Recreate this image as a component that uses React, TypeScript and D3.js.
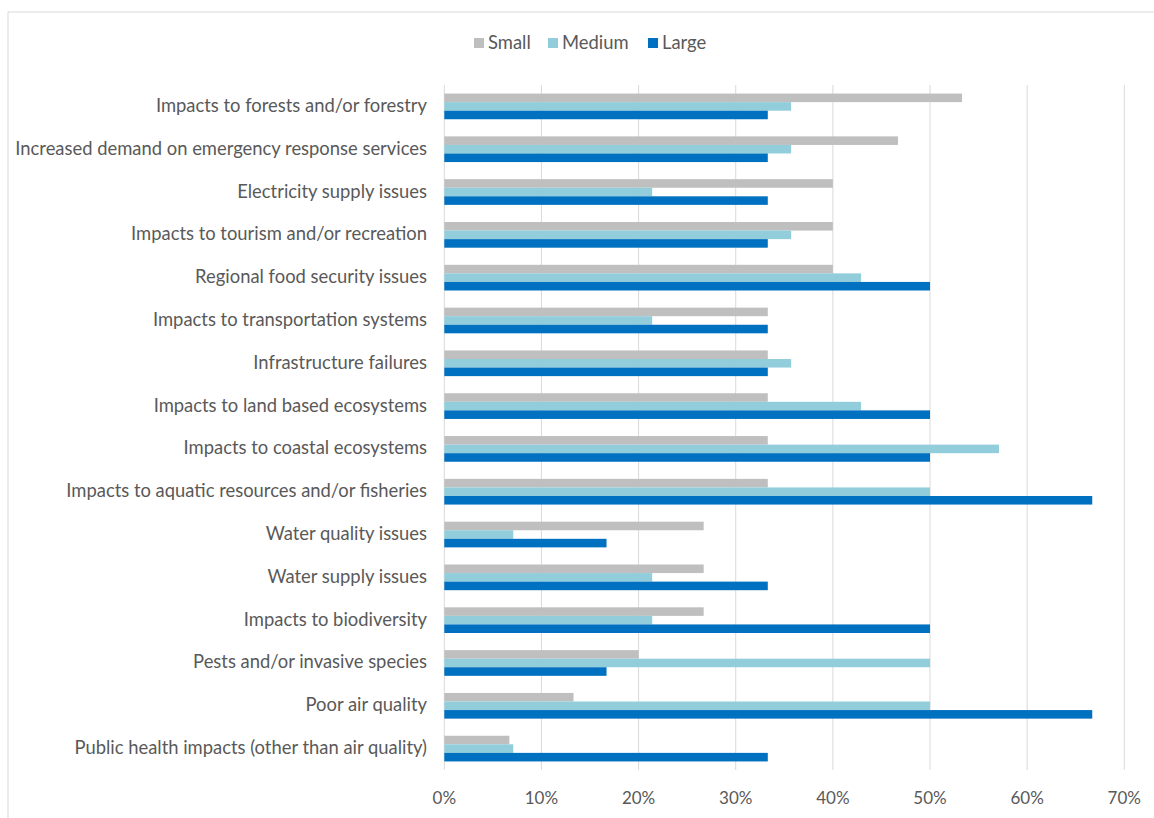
import React from "react";
import * as d3 from "d3";

const categories = [
  "Impacts to forests and/or forestry",
  "Increased demand on emergency response services",
  "Electricity supply issues",
  "Impacts to tourism and/or recreation",
  "Regional food security issues",
  "Impacts to transportation systems",
  "Infrastructure failures",
  "Impacts to land based ecosystems",
  "Impacts to coastal ecosystems",
  "Impacts to aquatic resources and/or fisheries",
  "Water quality issues",
  "Water supply issues",
  "Impacts to biodiversity",
  "Pests and/or invasive species",
  "Poor air quality",
  "Public health impacts (other than air quality)",
];

const small = [53.3, 46.7, 40, 40, 40, 33.3, 33.3, 33.3, 33.3, 33.3, 26.7, 26.7, 26.7, 20, 13.3, 6.7];
const medium = [35.7, 35.7, 21.4, 35.7, 42.9, 21.4, 35.7, 42.9, 57.1, 50, 7.1, 21.4, 21.4, 50, 50, 7.1];
const large = [33.3, 33.3, 33.3, 33.3, 50, 33.3, 33.3, 50, 50, 66.7, 16.7, 33.3, 50, 16.7, 66.7, 33.3];

const seriesNames = ["Small", "Medium", "Large"];
const seriesColors = ["#BFBFBF", "#92CDDC", "#0070C0"];
const xTicks = [0, 10, 20, 30, 40, 50, 60, 70];

const W = 1154;
const H = 818;
const left = 444.3;
const right = 1124.3;
const top = 85;
const bottom = 770;
const FONT = "Lato, 'Open Sans', sans-serif";

export default function App() {
  const x = d3.scaleLinear().domain([0, 70]).range([left, right]);
  const y = d3.scaleBand().domain(categories).range([top, bottom]).paddingInner(0.4).paddingOuter(0.2);
  const series = [small, medium, large];
  const inner = d3.scaleBand().domain(seriesNames).range([0, y.bandwidth()]);

  const legendItems = [
    { name: "Small", x: 474 },
    { name: "Medium", x: 548 },
    { name: "Large", x: 648 },
  ];

  return (
    <svg width={W} height={H} style={{ position: "absolute", left: 0, top: 0, background: "#fff" }}>
      <rect x={8} y={12} width={W} height={H} fill="#fff" stroke="#D9D9D9" strokeWidth={1} />
      {xTicks.map((t) => (
        <line key={t} x1={x(t)} x2={x(t)} y1={top} y2={bottom} stroke="#D9D9D9" strokeWidth={1} />
      ))}
      {categories.map((c, i) => (
        <g key={c}>
          {series.map((s, j) => (
            <rect
              key={j}
              x={x(0)}
              y={(y(c) as number) + (inner(seriesNames[j]) as number)}
              width={x(s[i]) - x(0)}
              height={inner.bandwidth()}
              fill={seriesColors[j]}
            />
          ))}
          <text
            x={427}
            y={(y(c) as number) + y.bandwidth() / 2 - 1.5}
            textAnchor="end"
            dominantBaseline="central"
            fontFamily={FONT}
            fontSize={18.4}
            fill="#595959"
          >
            {c}
          </text>
        </g>
      ))}
      {xTicks.map((t) => (
        <text key={t} x={x(t)} y={797} textAnchor="middle" dominantBaseline="central" fontFamily={FONT} fontSize={17} fill="#595959">
          {t + "%"}
        </text>
      ))}
      {legendItems.map((l, i) => (
        <g key={l.name}>
          <rect x={l.x} y={38} width={10} height={10} fill={seriesColors[i]} />
          <text x={l.x + 14} y={42} dominantBaseline="central" fontFamily={FONT} fontSize={18.4} fill="#595959">
            {l.name}
          </text>
        </g>
      ))}
    </svg>
  );
}
